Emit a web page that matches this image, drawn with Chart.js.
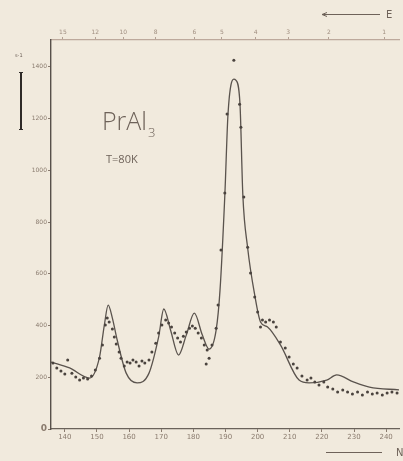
<!DOCTYPE html>
<html>
<head>
<meta charset="utf-8">
<script src="https://cdn.jsdelivr.net/npm/chart.js@4.4.1/dist/chart.umd.min.js"></script>
<style>
  html, body { margin: 0; padding: 0; background: #f1eadd; }
  #wrap { width: 403px; height: 461px; }
</style>
</head>
<body>
<div id="wrap"><canvas id="chart" width="403" height="461"></canvas></div>
<script>
// channel number N (bottom axis) and counts
var fitChannel = [135.7, 141.5, 147.7, 150.8, 152.3, 153.5, 154.8, 156.3, 159.1, 162.5, 166.2, 169.2, 170.8, 172.9, 175.4, 177.8, 180.3, 182.8, 184.9, 187.1, 188.3, 189.8, 190.8, 192.6, 193.2, 194.5, 195.4, 196.9, 199.1, 200.9, 203.1, 207.1, 212.9, 216.0, 221.5, 224.6, 229.8, 234.8, 244];
var fitCounts  = [259, 236, 197, 278, 402, 479, 429, 344, 216, 178, 216, 356, 464, 383, 286, 363, 448, 363, 309, 383, 537, 905, 1221, 1353, 1349, 1260, 905, 700, 518, 414, 394, 325, 189, 178, 189, 209, 182, 162, 151];

var obsChannel = [136.3, 137.5, 138.8, 140.0, 140.9, 142.2, 143.4, 144.6, 145.8, 147.1, 148.3, 149.5, 150.8, 151.7, 152.6, 153.2, 153.8, 154.8, 155.4, 156.0, 156.9, 157.5, 158.5, 159.4, 160.3, 161.2, 162.2, 163.1, 164.0, 164.9, 166.2, 167.1, 168.3, 169.2, 170.2, 171.4, 172.3, 173.2, 174.2, 175.1, 176.0, 176.9, 177.8, 178.8, 179.7, 180.6, 181.5, 182.5, 183.4, 184.3, 184.9, 184.0, 185.8, 187.1, 187.7, 188.6, 189.8, 190.5, 192.6, 194.4, 194.8, 195.7, 196.9, 197.8, 199.1, 200.0, 200.9, 201.5, 202.5, 203.7, 204.9, 205.8, 207.1, 208.6, 209.8, 211.1, 212.3, 213.8, 215.4, 216.6, 217.8, 219.1, 220.6, 221.8, 223.4, 224.9, 226.5, 228.0, 229.5, 231.1, 232.6, 234.2, 235.7, 237.2, 238.8, 240.3, 241.8, 243.4];
var obsCounts  = [255, 236, 224, 213, 267, 216, 201, 189, 197, 193, 205, 228, 274, 325, 402, 429, 414, 387, 356, 329, 298, 274, 244, 259, 255, 267, 259, 244, 263, 255, 267, 298, 332, 371, 402, 421, 410, 394, 371, 352, 336, 359, 375, 390, 398, 390, 371, 352, 325, 305, 274, 251, 325, 390, 479, 692, 912, 1218, 1426, 1256, 1167, 897, 703, 603, 510, 452, 394, 421, 414, 421, 414, 394, 336, 313, 278, 251, 236, 205, 189, 197, 182, 170, 182, 162, 155, 143, 151, 143, 135, 143, 131, 143, 135, 139, 131, 139, 143, 139];

// axis ticks
var channelTicks = [140, 150, 160, 170, 180, 190, 200, 210, 220, 230, 240];
var countTicks = [0, 200, 400, 600, 800, 1000, 1200, 1400];
// top energy scale: labels and where they sit on the channel axis
var energyLabels = ['15', '12', '10', '8', '6', '5', '4', '3', '2', '1'];
var energyChannels = [139.4, 149.5, 158.2, 168.3, 180.3, 188.9, 199.4, 209.5, 222.2, 239.4];

var inkDark = '#57504a';
var inkLabel = '#8a7b6e';

var fitPoints = fitChannel.map(function (c, i) { return { x: c, y: fitCounts[i] }; });
var obsPoints = obsChannel.map(function (c, i) { return { x: c, y: obsCounts[i] }; });

// text and scale bar drawn over the plot
var notes = {
  id: 'notes',
  afterDraw: function (chart) {
    var ctx = chart.ctx;
    ctx.save();
    ctx.fillStyle = '#6e6259';
    ctx.textBaseline = 'alphabetic';
    ctx.font = '300 25px "Open Sans", sans-serif';
    ctx.fillText('PrAl', 102, 130);
    var w = ctx.measureText('PrAl').width;
    ctx.font = '300 13px "Open Sans", sans-serif';
    ctx.fillText('3', 102 + w + 1, 137);
    ctx.font = '11px "Open Sans", sans-serif';
    ctx.fillText('T=80K', 106, 163);

    // scale bar
    ctx.strokeStyle = '#2e2a27';
    ctx.lineWidth = 2;
    ctx.beginPath();
    ctx.moveTo(21, 72); ctx.lineTo(21, 130);
    ctx.stroke();
    ctx.lineWidth = 1;
    ctx.beginPath();
    ctx.moveTo(19, 72.5); ctx.lineTo(23, 72.5);
    ctx.moveTo(19, 129.5); ctx.lineTo(23, 129.5);
    ctx.stroke();
    ctx.fillStyle = '#6e6259';
    ctx.font = '5px "DejaVu Sans", sans-serif';
    ctx.fillText('s-1', 15, 57);

    // axis arrows
    ctx.strokeStyle = '#6e6259';
    ctx.lineWidth = 1;
    ctx.beginPath();
    ctx.moveTo(322, 14.5); ctx.lineTo(380, 14.5);
    ctx.moveTo(322, 14.5); ctx.lineTo(327, 12.5);
    ctx.moveTo(322, 14.5); ctx.lineTo(327, 16.5);
    ctx.moveTo(326, 452.5); ctx.lineTo(382, 452.5);
    ctx.stroke();
    ctx.font = '10px "DejaVu Sans", sans-serif';
    ctx.fillText('E', 386, 18);
    ctx.fillText('N', 396, 456);
    ctx.restore();
  }
};

var ctx = document.getElementById('chart').getContext('2d');
var chart = new Chart(ctx, {
  type: 'scatter',
  data: {
    datasets: [{
      type: 'line',
      label: 'fit',
      data: fitPoints,
      borderColor: '#5a534d',
      borderWidth: 1.3,
      pointRadius: 0,
      cubicInterpolationMode: 'monotone',
      fill: false,
      order: 2
    }, {
      label: 'measured',
      data: obsPoints,
      pointRadius: 1.5,
      pointBackgroundColor: '#4a433e',
      pointBorderWidth: 0,
      order: 1
    }]
  },
  plugins: [notes],
  options: {
    responsive: false,
    animation: false,
    devicePixelRatio: 1,
    layout: { padding: 0 },
    plugins: { legend: { display: false }, tooltip: { enabled: false } },
    scales: {
      x: {
        type: 'linear',
        position: 'bottom',
        min: 135.7,
        max: 244,
        afterBuildTicks: function (s) { s.ticks = channelTicks.map(function (v) { return { value: v }; }); },
        afterFit: function (s) { s.height = 32; },
        ticks: {
          autoSkip: false, maxRotation: 0, padding: 1, color: inkLabel, font: { size: 7, family: 'DejaVu Sans' },
          callback: function (v) { return String(v); }
        },
        grid: { drawOnChartArea: false, tickLength: 3, color: inkLabel },
        border: { color: '#6a625a', width: 1.2 }
      },
      x2: {
        type: 'linear',
        position: 'top',
        min: 135.7,
        max: 244,
        afterBuildTicks: function (s) { s.ticks = energyChannels.map(function (v) { return { value: v }; }); },
        afterFit: function (s) { s.height = 40; },
        ticks: {
          autoSkip: false, maxRotation: 0, padding: 1, color: '#a08f80', font: { size: 6, family: 'DejaVu Sans' },
          callback: function (v, i) { return energyLabels[i]; }
        },
        grid: { drawOnChartArea: false, tickLength: 3, color: '#b3a194' },
        border: { color: '#bda99c', width: 1.2 }
      },
      y: {
        type: 'linear',
        min: 0,
        max: 1504,
        afterBuildTicks: function (s) { s.ticks = countTicks.map(function (v) { return { value: v }; }); },
        afterFit: function (s) { s.width = 51; },
        ticks: {
          padding: 1, color: inkLabel,
          callback: function (v) { return String(v); },
          font: function (c) { return c.tick && c.tick.value === 0 ? { size: 9, weight: 'bold', family: 'DejaVu Sans' } : { size: 6, family: 'DejaVu Sans' }; }
        },
        grid: { drawOnChartArea: false, tickLength: 3, color: inkLabel },
        border: { color: inkDark, width: 1.4 }
      }
    }
  }
});
</script>
</body>
</html>
